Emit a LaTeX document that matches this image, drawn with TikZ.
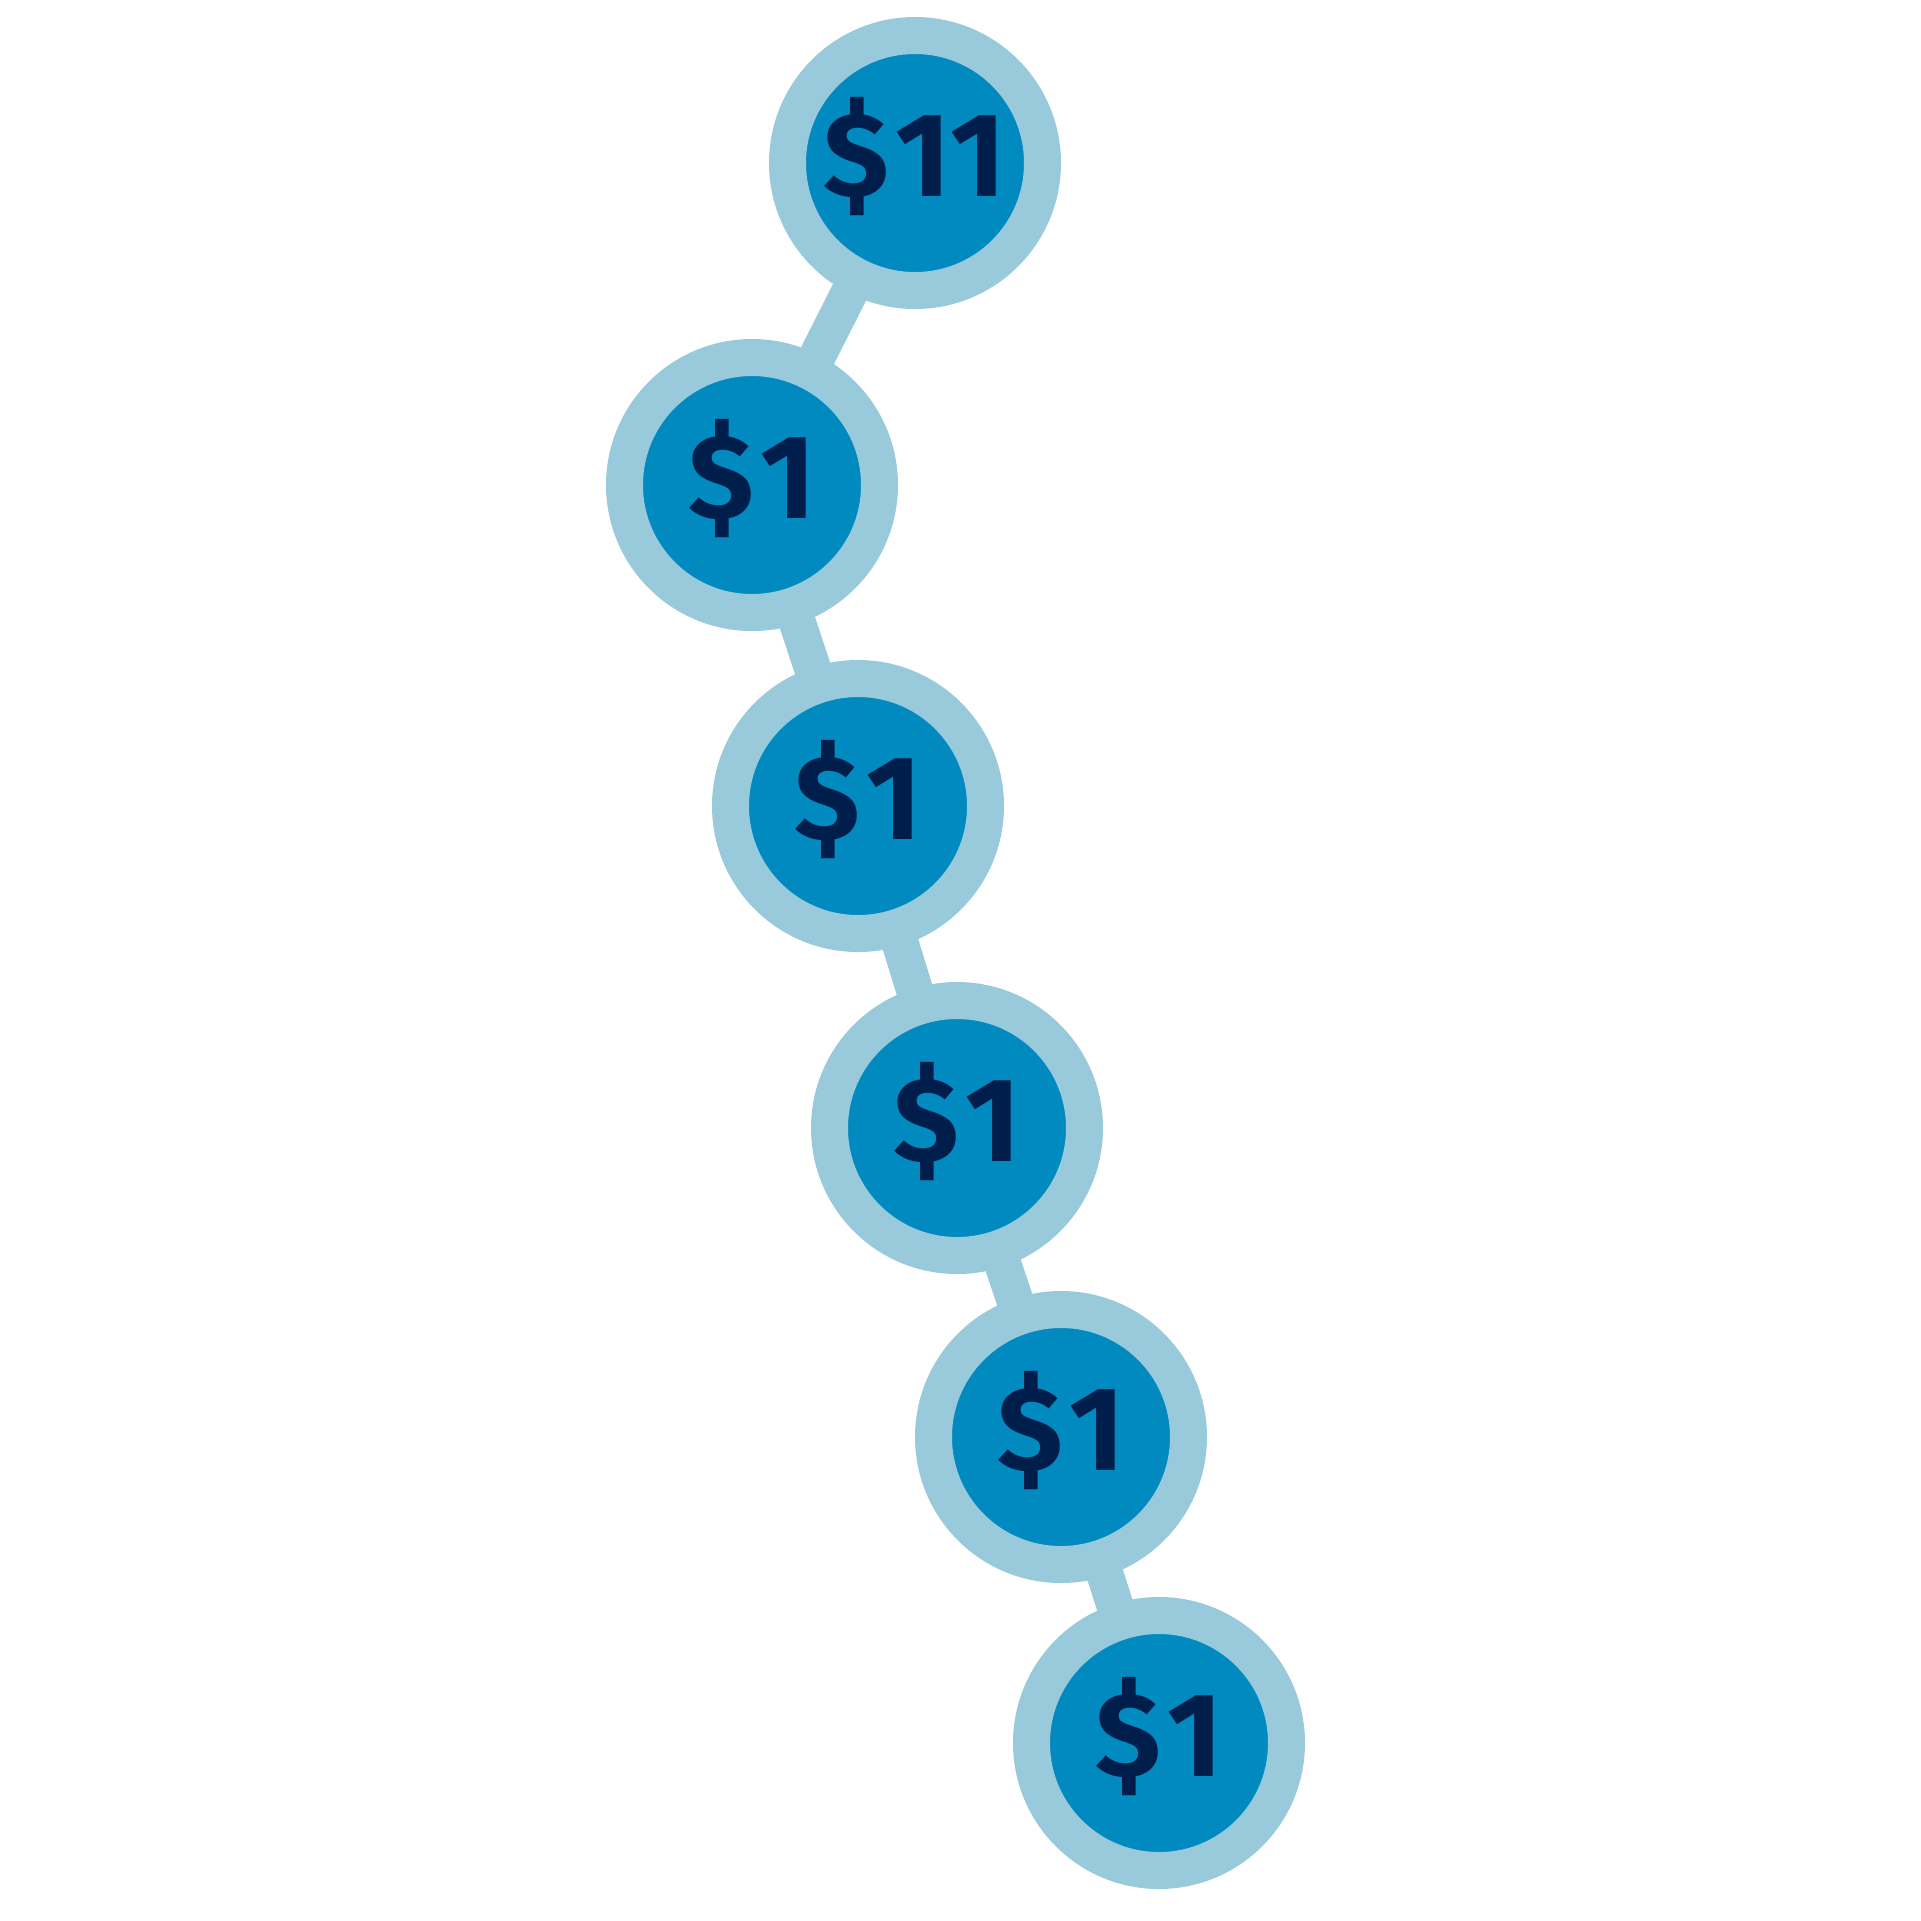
\documentclass[tikz,border=0pt]{standalone}
\usepackage{fontspec}
\setmainfont{Fira Sans}[Kerning=Off,Numbers=Proportional]
\usetikzlibrary{backgrounds}
\definecolor{ringblue}{HTML}{99CADB}
\definecolor{coinblue}{HTML}{008ABF}
\definecolor{navy}{HTML}{001E4B}
\newcommand{\amt}[1]{\raisebox{-0.33cm}[0pt][0pt]{\$\kern0.05em#1}}

\begin{document}
\begin{tikzpicture}[
    coin/.style={circle, draw=ringblue, fill=coinblue, line width=0.37cm,
        minimum size=2.55cm, inner sep=0pt, text=navy,
        font=\fontsize{34}{40}\selectfont\bfseries},
    link/.style={draw=ringblue, line width=0.37cm,
        shorten <=-0.3cm, shorten >=-0.3cm}
    ]
        \useasboundingbox (0,0) rectangle (19.21,-19.21);
        \node[coin] (11) at (9.15,-1.63) {\amt{11}};
        \node[coin] (1a) at (7.52,-4.85) {\amt{1}};
        \node[coin] (1b) at (8.58,-8.06) {\amt{1}};
        \node[coin] (1c) at (9.57,-11.28) {\amt{1}};
        \node[coin] (1d) at (10.61,-14.37) {\amt{1}};
        \node[coin] (1e) at (11.59,-17.43) {\amt{1}};
        \begin{scope}[on background layer]
        \draw[link] (11) -- (1a);
        \draw[link] (1a) -- (1b);
        \draw[link] (1b) -- (1c);
        \draw[link] (1c) -- (1d);
        \draw[link] (1d) -- (1e);
        \end{scope}
    \end{tikzpicture}
\end{document}
